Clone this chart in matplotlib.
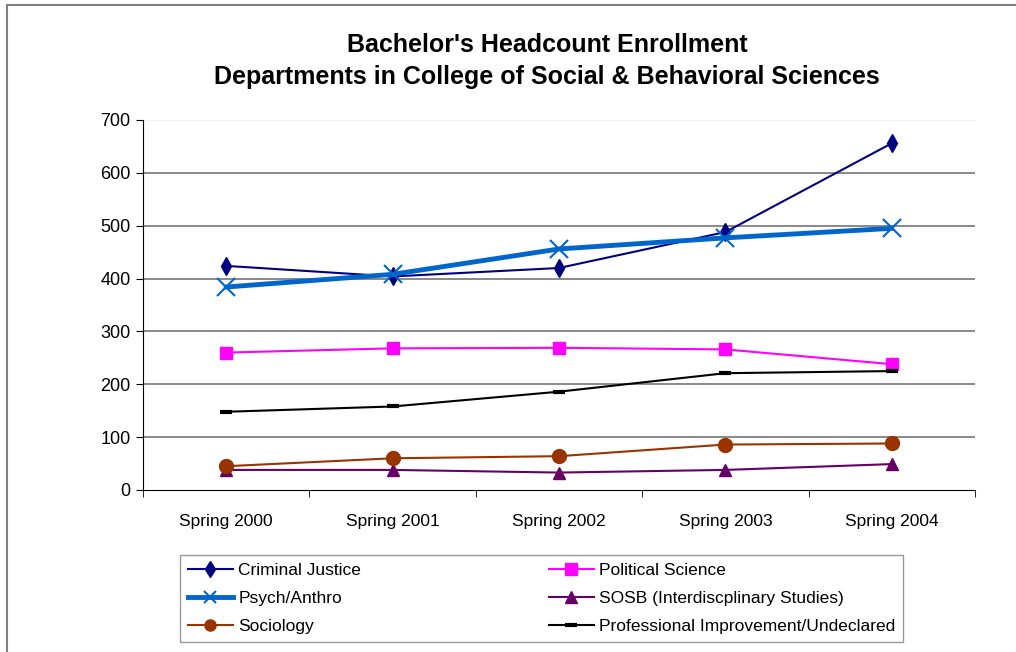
import matplotlib
matplotlib.use('Agg')
import matplotlib.pyplot as plt
from matplotlib.lines import Line2D
import numpy as np

# chart data
terms = ['Spring 2000', 'Spring 2001', 'Spring 2002', 'Spring 2003', 'Spring 2004']
criminal_justice = [424, 404, 420, 488, 656]
psych_anthro = [384, 408, 456, 477, 495]
political_science = [260, 268, 269, 266, 238]
prof_improvement = [148, 158, 186, 221, 225]
sociology = [45, 60, 64, 86, 88]
sosb = [38, 38, 33, 38, 49]

plt.rcParams['font.family'] = ['Liberation Sans', 'DejaVu Sans']

fig = plt.figure(figsize=(10.16, 6.52), dpi=100)
ax = fig.add_axes([143 / 1016, 1 - 490 / 652, (975 - 143) / 1016, (490 - 120) / 652])

x = np.arange(len(terms))
series = [
	(criminal_justice, 'Criminal Justice', '#000080', 'd', 1.5, 9, 3),
	(political_science, 'Political Science', '#FF00FF', 's', 1.5, 9, 3),
	(psych_anthro, 'Psych/Anthro', '#0066CC', 'x', 3.5, 13, 4),
	(sosb, 'SOSB (Interdiscplinary Studies)', '#660066', '^', 1.5, 9, 3),
	(sociology, 'Sociology', '#993300', 'o', 1.5, 10, 3),
	(prof_improvement, 'Professional Improvement/Undeclared', '#000000', '_', 1.5, 8, 3),
]
for vals, name, col, mk, lw, ms, z in series:
	mew = 1.5 if mk == 'x' else (3 if mk == '_' else 1)
	ax.plot(x, vals, color=col, marker=mk, linewidth=lw, markersize=ms,
			markeredgewidth=mew, markeredgecolor=col, markerfacecolor=col, zorder=z, label=name)

ax.set_xlim(-0.5, 4.5)
ax.set_ylim(0, 700)
ax.set_yticks(range(0, 701, 100))
ax.set_yticklabels([str(v) for v in range(0, 701, 100)], fontsize=13)
ax.set_xticks(x)
ax.set_xticklabels(terms, fontsize=12.5)
ax.tick_params(axis='x', which='major', length=0, pad=17)
ax.set_xticks(np.arange(-0.5, 5.0, 1.0), minor=True)
ax.tick_params(axis='x', which='minor', length=5, direction='out', color='#000000')
ax.tick_params(axis='y', length=5, direction='out', color='#000000', pad=4)

for v in range(100, 701, 100):
	ax.axhline(v, color='#808080' if v < 700 else '#F0F0F0', linewidth=1.3, zorder=1)

for s in ['top', 'right']:
	ax.spines[s].set_visible(False)
ax.spines['left'].set_color('#000000')
ax.spines['bottom'].set_color('#000000')

fig.text(547 / 1016, 1 - 45 / 652, "Bachelor's Headcount Enrollment", ha='center', va='center',
		 fontsize=18, fontweight='bold')
fig.text(547 / 1016, 1 - 77 / 652, 'Departments in College of Social & Behavioral Sciences', ha='center',
		 va='center', fontsize=18, fontweight='bold')

# legend in two columns, filled column by column
handles, labels = ax.get_legend_handles_labels()
order = [0, 2, 4, 1, 3, 5]
leg = fig.legend([handles[i] for i in order], [labels[i] for i in order], ncol=2,
				 loc='upper left', bbox_to_anchor=(180 / 1016, 1 - 555 / 652), fontsize=12.5,
				 frameon=True, fancybox=False, edgecolor='#808080', handlelength=2.6,
				 columnspacing=10.8, labelspacing=0.75, borderpad=0.45, borderaxespad=0,
				 handletextpad=0.3)
leg.get_frame().set_linewidth(1)
for h in leg.legend_handles:
	h.set_markersize(8)

# outer chart border (top and left)
fig.add_artist(Line2D([7 / 1016, 1], [1 - 5 / 652, 1 - 5 / 652], color='#808080', linewidth=1.5))
fig.add_artist(Line2D([7 / 1016, 7 / 1016], [0, 1 - 5 / 652], color='#808080', linewidth=1.5))

fig.savefig('out.png', dpi=100)
